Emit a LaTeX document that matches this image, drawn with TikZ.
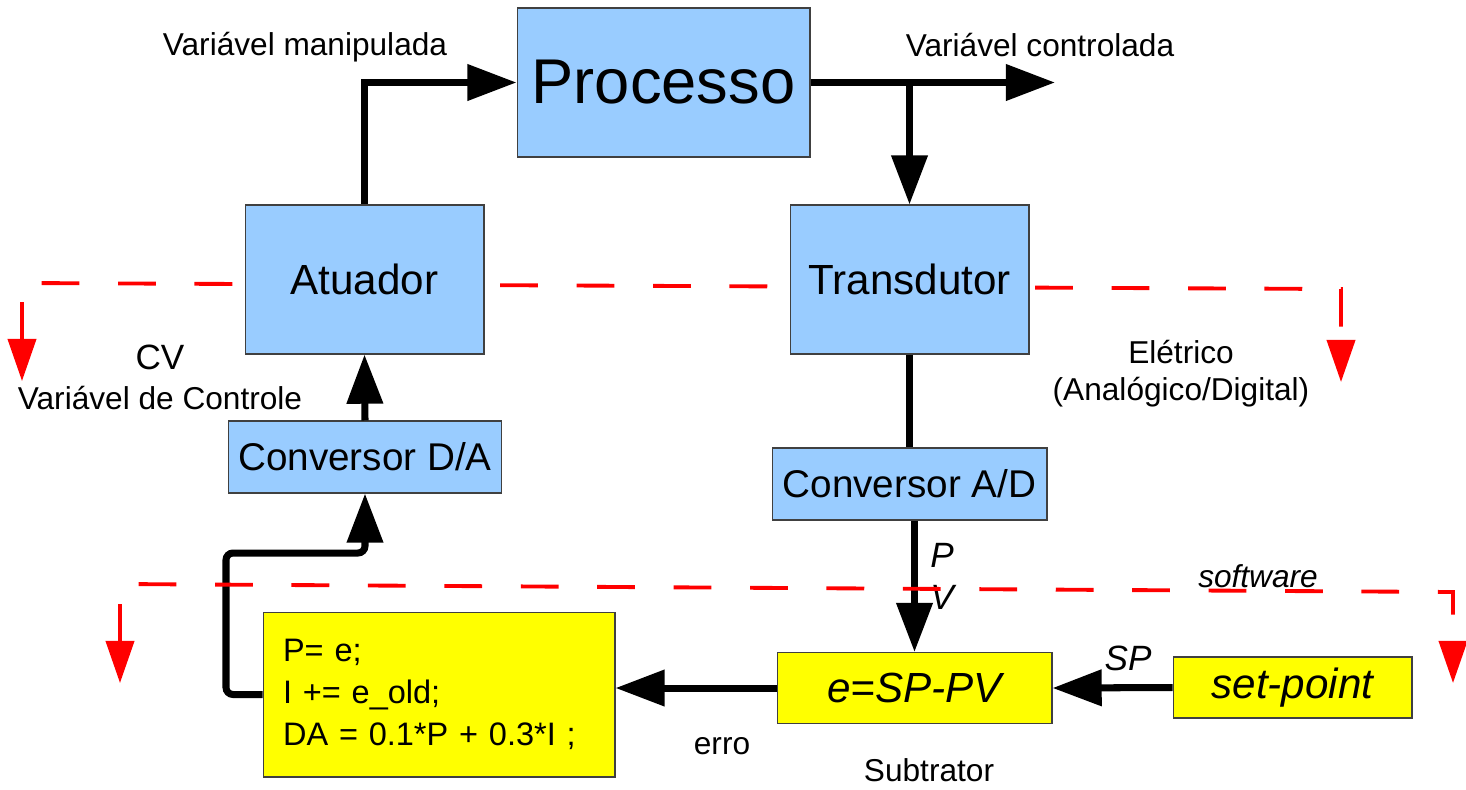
\documentclass[tikz,border=0pt]{standalone}
\usepackage{fontspec}
\setmainfont{Liberation Sans}
\usetikzlibrary{arrows.meta}
\definecolor{boxblue}{HTML}{99CCFF}
\definecolor{boxyellow}{HTML}{FFFF00}

\begin{document}
\begin{tikzpicture}
  [x=0.02cm,y=-0.02cm]
      \tikzstyle{block_style} = [draw=black!75, line width=0.6pt, fill=boxblue, inner sep=0pt]
      \tikzstyle{soft_style} = [draw=black!75, line width=0.6pt, fill=boxyellow, inner sep=0pt]
      \tikzstyle{arrow_style} = [draw=black, line width=4pt, -{Triangle[length=28pt,width=20pt]}]
      \tikzstyle{limit_style} = [draw=red, line width=2.2pt, dash pattern=on 21.5pt off 22pt,
        {Triangle[length=24pt,width=16pt]}-{Triangle[length=24pt,width=16pt]}]
      \tikzstyle{label_style} = [font=\fontsize{18}{24}\selectfont, inner sep=0pt]
  \useasboundingbox (0,0) rectangle (1466,789);
  % fronteira eletrico
  \coordinate (el_l) at (22,381);
  \coordinate (el_lc) at (22,283);
  \coordinate (el_rc) at (1341,289);
  \coordinate (el_r) at (1341,382);
  \draw[limit_style] (el_l) -- (el_lc) -- (el_rc) -- (el_r);
  % blocos
  \node[block_style, minimum width=5.86cm, minimum height=2.98cm, font=\fontsize{36}{40}\selectfont] (processo) at (663.5,82.5) {Processo};
  \node[block_style, minimum width=4.78cm, minimum height=2.98cm, font=\fontsize{24}{28}\selectfont] (atuador) at (364.5,279.5) {Atuador};
  \node[block_style, minimum width=4.78cm, minimum height=2.98cm, font=\fontsize{24}{28}\selectfont] (transdutor) at (909.5,279.5) {Transdutor};
  \node[block_style, minimum width=5.46cm, minimum height=1.44cm, font=\fontsize{22}{26}\selectfont] (conv_da) at (365,457) {Conversor D/A};
  \node[block_style, minimum width=5.5cm, minimum height=1.44cm, font=\fontsize{22}{26}\selectfont] (conv_ad) at (909.5,484) {Conversor A/D};
  \node[soft_style, text width=6.24cm, inner xsep=0.4cm, minimum height=3.3cm, align=left, font=\fontsize{18.5}{24}\selectfont] (codigo) at (439,694.5) {P= e;\\I += e\_old;\\DA = 0.1*P + 0.3*I ;};
  \node[soft_style, minimum width=5.5cm, minimum height=1.42cm, font=\fontsize{24}{28}\selectfont\itshape] (subtr) at (914.5,688) {e=SP-PV};
  \node[soft_style, minimum width=4.78cm, minimum height=1.22cm, font=\fontsize{24}{28}\selectfont\itshape] (setpoint) at (1292.5,687.5) {set-point};
  % textos
  \node[label_style] (vm) at (305,47) {Variável manipulada};
  \node[label_style] (vc) at (1040,45) {Variável controlada};
  \node[label_style, font=\fontsize{20}{24}\selectfont] (cv) at (160,357) {CV};
  \node[label_style] (cv_txt) at (160,398) {Variável de Controle};
  \node[label_style, align=center, font=\fontsize{18}{21}\selectfont] (eletrico) at (1181,374) {Elétrico\\(Analógico/Digital)};
  \node[label_style, align=center, font=\fontsize{20}{24}\selectfont\itshape] (pv) at (942,576) {P\\V};
  \node[label_style, font=\fontsize{18}{24}\selectfont\itshape] (software) at (1258,576) {software};
  \node[label_style, font=\fontsize{20}{24}\selectfont\itshape] (sp) at (1128,658) {SP};
  \node[label_style] (erro) at (722,746) {erro};
  \node[label_style] (subtrator) at (929,770) {Subtrator};
  % ligacoes
  \coordinate (vc_out) at (1055,82.5);
  \coordinate (branch) at (909.5,82.5);
  \coordinate (bend) at (226,553);
  \draw[arrow_style] (atuador.north) |- (processo.west);
  \draw[arrow_style] (processo.east) -- (vc_out);
  \draw[arrow_style] (branch) -- (transdutor.north);
  \draw[line width=4pt] (transdutor.south) -- (conv_ad.north);
  \draw[arrow_style] (subtr.north |- conv_ad.south) -- (subtr.north);
  \draw[arrow_style] (setpoint.west) -- (subtr.east);
  \draw[arrow_style] (subtr.west) -- (subtr.west -| codigo.east);
  \draw[arrow_style, rounded corners=4pt] (codigo.west) -| (bend) -| (conv_da.south);
  \draw[arrow_style] (conv_da.north) -- (atuador.south);
  % fronteira software
  \coordinate (sw_l) at (120,683);
  \coordinate (sw_lc) at (120,584);
  \coordinate (sw_rc) at (1453,592);
  \coordinate (sw_r) at (1453,683);
  \draw[limit_style] (sw_l) -- (sw_lc) -- (sw_rc) -- (sw_r);
\end{tikzpicture}
\end{document}
